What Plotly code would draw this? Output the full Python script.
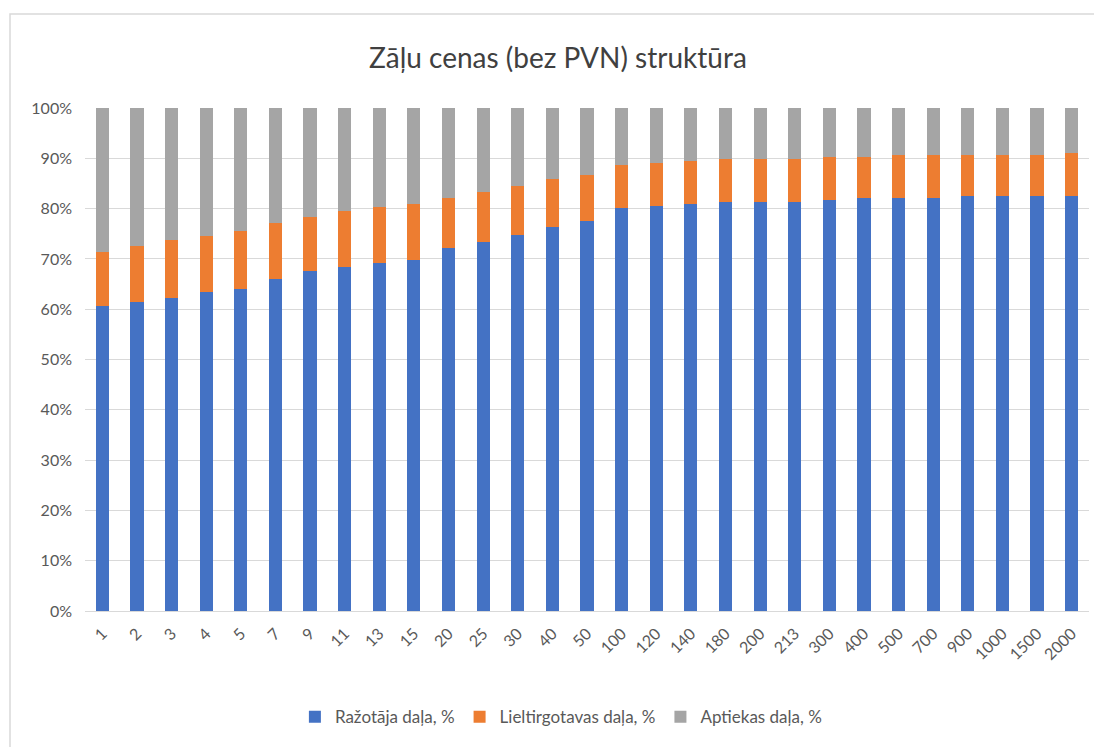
import plotly.graph_objects as go

# ─── Data ─────────────────────────────────────────────────────────────────────
categories = ["1", "2", "3", "4", "5", "7", "9", "11", "13", "15", "20", "25",
              "30", "40", "50", "100", "120", "140", "180", "200", "213", "300",
              "400", "500", "700", "900", "1000", "1500", "2000"]

razotaja = [60.6, 61.4, 62.2, 63.4, 64.1, 66.0, 67.6, 68.3, 69.1, 69.8, 72.2, 73.3,
            74.8, 76.3, 77.5, 80.2, 80.6, 81.0, 81.4, 81.4, 81.4, 81.8,
            82.1, 82.1, 82.1, 82.5, 82.5, 82.5, 82.5]

lieltirgotavas = [10.8, 11.2, 11.5, 11.1, 11.5, 11.1, 10.7, 11.2, 11.2, 11.2, 9.9, 10.0,
                  9.6, 9.6, 9.2, 8.4, 8.4, 8.4, 8.4, 8.4, 8.4, 8.4,
                  8.1, 8.5, 8.5, 8.1, 8.1, 8.1, 8.5]

aptiekas = [round(100 - a - b, 1) for a, b in zip(razotaja, lieltirgotavas)]

series_names = ["Ražotāja daļa, %", "Lieltirgotavas daļa, %", "Aptiekas daļa, %"]
colors = ["#4472C4", "#ED7D31", "#A5A5A5"]

FONT = "Lato, 'Open Sans', sans-serif"

fig = go.Figure()
for name, vals, col in zip(series_names, [razotaja, lieltirgotavas, aptiekas], colors):
    fig.add_trace(go.Bar(
        x=categories, y=vals, name=name,
        marker=dict(color=col, line=dict(width=0)),
    ))

# chart-area border (Excel style)
fig.add_shape(type="rect", xref="paper", yref="paper",
              x0=-0.0747, x1=1.2, y0=-0.5, y1=1.187,
              line=dict(color="#D9D9D9", width=1.5), layer="below")

# page body adds an 8px offset, margins compensate for it
fig.update_layout(
    barmode="stack",
    bargap=0.62,
    width=1102, height=747,
    margin=dict(l=77, r=21, t=100, b=144),
    paper_bgcolor="white",
    plot_bgcolor="white",
    font=dict(family=FONT, color="#595959", size=16),
    title=dict(text="Zāļu cenas (bez PVN) struktūra",
               x=0.471, xanchor="center", xref="paper",
               y=1 - 50 / 747, yanchor="middle",
               font=dict(size=28, color="#404040", family=FONT)),
    xaxis=dict(type="category", tickangle=-45, showgrid=False,
               showline=True, linecolor="#D9D9D9", linewidth=1,
               ticks="", ticklabelstandoff=6,
               tickfont=dict(size=16, color="#595959")),
    yaxis=dict(range=[0, 100], dtick=10, ticksuffix="%",
               gridcolor="#D9D9D9", gridwidth=1, zeroline=False,
               ticks="", ticklabelstandoff=12,
               tickfont=dict(size=16, color="#595959")),
    legend=dict(orientation="h", x=0.474, xanchor="center",
                y=-0.211, yanchor="middle",
                font=dict(size=17, color="#595959"),
                traceorder="normal", itemwidth=30),
    showlegend=True,
)

fig.write_html("out.html")
